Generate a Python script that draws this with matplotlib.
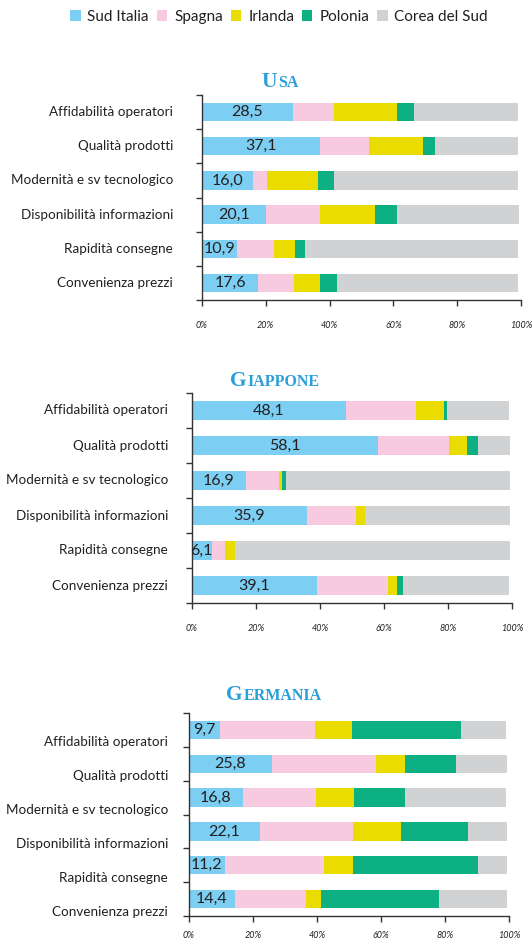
import matplotlib
matplotlib.use("Agg")
import matplotlib.pyplot as plt
from matplotlib.patches import Patch
import matplotlib.transforms as mtransforms
import numpy as np

# ---------------- data ----------------
categories = ["Affidabilità operatori", "Qualità prodotti", "Modernità e sv tecnologico",
              "Disponibilità informazioni", "Rapidità consegne", "Convenienza prezzi"]
series_names = ["Sud Italia", "Spagna", "Irlanda", "Polonia", "Corea del Sud"]
xtick_vals = [0, 20, 40, 60, 80, 100]
xtick_labels = ["0%", "20%", "40%", "60%", "80%", "100%"]

usa_sud = [28.5, 37.1, 16.0, 20.1, 10.9, 17.6]
usa_spagna = [13.0, 15.1, 4.4, 16.9, 11.7, 11.3]
usa_irlanda = [19.5, 17.2, 15.9, 17.1, 6.6, 8.1]
usa_polonia = [5.6, 3.7, 5.0, 6.9, 3.1, 5.2]
usa_corea = [32.4, 25.9, 57.7, 38.3, 66.7, 56.8]

giap_sud = [48.1, 58.1, 16.9, 35.9, 6.1, 39.1]
giap_spagna = [21.8, 22.2, 10.4, 15.4, 4.1, 22.2]
giap_irlanda = [8.8, 5.6, 0.9, 2.8, 3.1, 2.8]
giap_polonia = [0.9, 3.4, 1.3, 0.0, 0.0, 1.8]
giap_corea = [19.4, 10.0, 69.8, 45.2, 86.0, 33.1]

germ_sud = [9.7, 25.8, 16.8, 22.1, 11.2, 14.4]
germ_spagna = [29.7, 32.7, 23.0, 29.2, 31.0, 22.2]
germ_irlanda = [11.6, 9.0, 11.8, 15.0, 9.1, 4.7]
germ_polonia = [34.0, 16.0, 15.9, 20.9, 39.0, 36.8]
germ_corea = [14.1, 15.9, 31.6, 12.2, 9.1, 21.3]

colors = ["#7ccff3", "#f8cadf", "#ebdc00", "#0db083", "#d1d2d4"]
TEXT = "#231f20"
TITLE_BLUE = "#2a9fd8"
FONT = "Lato"

W, H = 532, 940
fig = plt.figure(figsize=(W / 100, H / 100), dpi=100)
plt.rcParams['font.family'] = [FONT, 'DejaVu Sans']


def px_axes(left, right, top, bottom):
    return fig.add_axes([left / W, 1 - bottom / H, (right - left) / W, (bottom - top) / H])


def small_caps(word, xc, yc, big=15.5, small=11.5):
    r = fig.canvas.get_renderer()
    t1 = fig.text(0, 1 - yc / H, word[0], fontsize=big, fontweight='bold',
                  family='Liberation Serif', color=TITLE_BLUE, va='baseline')
    t2 = fig.text(0, 1 - yc / H, word[1:].upper(), fontsize=small, fontweight='bold',
                  family='Liberation Serif', color=TITLE_BLUE, va='baseline')
    w1 = t1.get_window_extent(r).width
    w2 = t2.get_window_extent(r).width
    x0 = xc - (w1 + w2 + 1) / 2
    t1.set_x(x0 / W)
    t2.set_x((x0 + w1 + 1) / W)


def panel(box, series, title, title_xy, label_offset=0.0, xpad=11, gap=28):
    ax = px_axes(*box)
    y = np.arange(len(categories))
    left = np.zeros(len(categories))
    for vals, c in zip(series, colors):
        ax.barh(y, vals, left=left, height=0.54, color=c, edgecolor='none')
        left = left + np.array(vals)
    # data labels for Sud Italia
    for yi, v in zip(y, series[0]):
        ax.text(v / 2, yi, f"{v:.1f}".replace('.', ','), ha='center', va='center',
                fontsize=11.5, color=TEXT)
    ax.set_xlim(0, 100)
    ax.set_ylim(len(categories) - 0.5, -0.5)
    ax.set_yticks(np.arange(-0.5, len(categories), 1.0))
    ax.set_yticklabels([])
    trans = (mtransforms.blended_transform_factory(ax.transAxes, ax.transData)
             + mtransforms.ScaledTranslation(-gap / 100, 0, fig.dpi_scale_trans))
    for yi, cat in zip(y, categories):
        ax.text(0, yi + label_offset, cat, transform=trans, ha='right', va='center',
                fontsize=9.7, color=TEXT)
    ax.set_xticks(xtick_vals)
    ax.set_xticklabels(xtick_labels, fontstyle='italic', fontsize=6.5, color=TEXT)
    ax.tick_params(axis='x', direction='out', length=4, width=1, color='#333333', pad=xpad)
    ax.tick_params(axis='y', direction='out', length=4, width=1, color='#333333')
    for s in ['top', 'right']:
        ax.spines[s].set_visible(False)
    for s in ['left', 'bottom']:
        ax.spines[s].set_color('#333333')
        ax.spines[s].set_linewidth(1.0)
    small_caps(title, *title_xy)
    return ax


panel((202, 521, 95, 300), [usa_sud, usa_spagna, usa_irlanda, usa_polonia, usa_corea],
      "Usa", (280, 87), gap=29)
panel((192, 512, 393, 603), [giap_sud, giap_spagna, giap_irlanda, giap_polonia, giap_corea],
      "Giappone", (275, 386), gap=24)
panel((189, 509, 713, 916), [germ_sud, germ_spagna, germ_irlanda, germ_polonia, germ_corea],
      "Germania", (274, 700), label_offset=0.37, xpad=7, gap=21)

handles = [Patch(facecolor=c, edgecolor='none') for c in colors]
fig.legend(handles, series_names, loc='center', bbox_to_anchor=(279 / W, 1 - 17 / H),
           ncol=5, frameon=False, fontsize=11, handlelength=0.7, handleheight=0.7,
           handletextpad=0.45, columnspacing=0.5, labelcolor=TEXT)

fig.savefig("out.png", dpi=100)
